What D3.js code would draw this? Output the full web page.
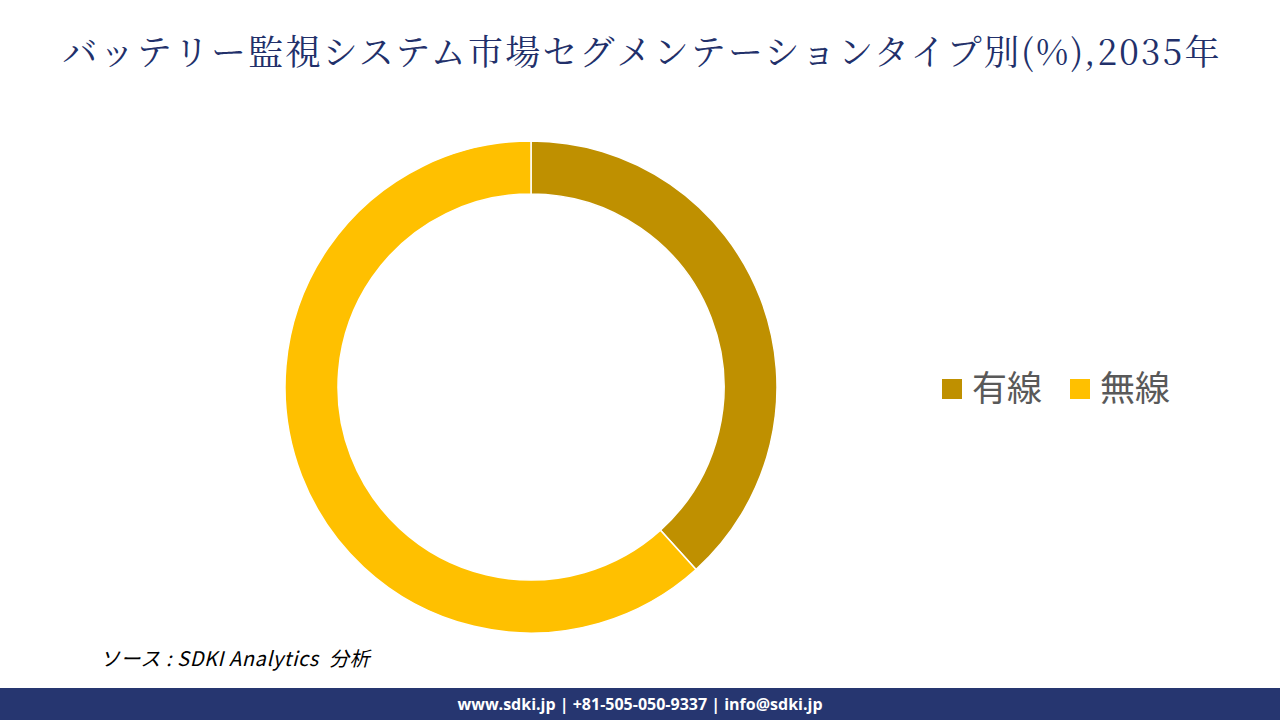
<!DOCTYPE html>
<html><head><meta charset="utf-8">
<script src="https://cdn.jsdelivr.net/npm/d3@7"></script>
<style>body{margin:0;background:#fff}svg{display:block}</style>
</head><body>
<svg id="c" width="1280" height="720"></svg>
<script>
const categories = ["有線", "無線"];
const values = [38.3, 61.7];
const colors = ["#BF9000", "#FFC000"];
const titleText = "バッテリー監視システム市場セグメンテーションタイプ別(%),2035年";
const sourceText = "ソース : SDKI Analytics  分析";
const footerText = "www.sdki.jp | +81-505-050-9337 | info@sdki.jp";

const svg = d3.select("#c");
svg.append("rect").attr("width",1280).attr("height",720).attr("fill","#fff");

svg.append("text").attr("x",642).attr("y",65).attr("text-anchor","middle")
  .attr("font-family","'Noto Serif CJK JP','Noto Sans CJK JP',serif")
  .attr("font-size",35).attr("fill","#22306a").attr("letter-spacing",2.2)
  .text(titleText);

const cx = 531, cy = 387, rO = 246, rI = 193;
const pie = d3.pie().sort(null).value(d=>d.v);
const arc = d3.arc().innerRadius(rI).outerRadius(rO);
const data = categories.map((c,i)=>({c, v: values[i], col: colors[i]}));
const g = svg.append("g").attr("transform",`translate(${cx},${cy})`);
g.selectAll("path").data(pie(data)).join("path")
  .attr("d",arc).attr("fill",d=>d.data.col).attr("stroke","#fff").attr("stroke-width",1.5);

const leg = svg.append("g");
const legX = [942, 1070];
data.forEach((d,i)=>{
  leg.append("rect").attr("x",legX[i]).attr("y",379).attr("width",20).attr("height",20).attr("fill",d.col);
  leg.append("text").attr("x",legX[i]+30).attr("y",401)
    .attr("font-family","'Noto Sans CJK JP',sans-serif").attr("font-size",35)
    .attr("fill","#595959").text(d.c);
});

svg.append("text").attr("x",100).attr("y",666)
  .style("white-space","pre").attr("letter-spacing",0.6)
  .attr("font-family","'Noto Sans CJK JP',sans-serif").attr("font-style","italic")
  .attr("font-size",20).attr("fill","#000").text(sourceText);

svg.append("rect").attr("x",0).attr("y",688).attr("width",1280).attr("height",32).attr("fill","#263670");
svg.append("text").attr("x",640).attr("y",710).attr("text-anchor","middle")
  .attr("font-family","'Open Sans','Noto Sans',sans-serif").attr("font-weight","bold")
  .attr("font-size",16).attr("fill","#fff").text(footerText);
</script>
</body></html>
